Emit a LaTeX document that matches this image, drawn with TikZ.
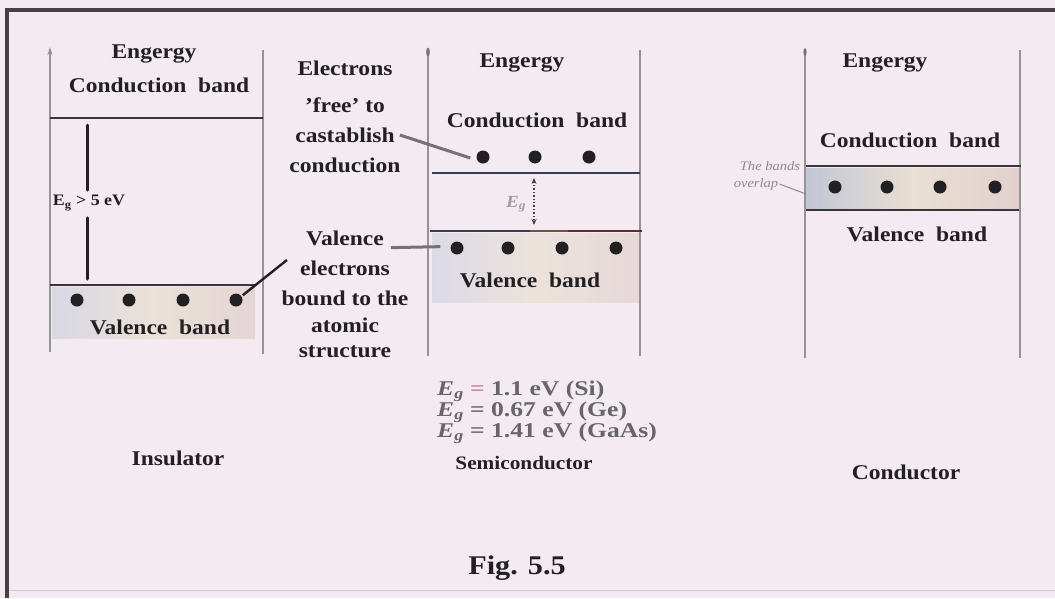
\documentclass[tikz,border=0pt]{standalone}
\usepackage{fontspec}
\setmainfont{Liberation Serif}[FakeStretch=1.12]
\newfontfamily\egfont{Liberation Serif}[FakeStretch=1.22]
\usetikzlibrary{arrows.meta,calc}
\definecolor{paper}{RGB}{243,234,242}
\definecolor{ink}{RGB}{35,32,36}
\definecolor{bandA}{RGB}{205,208,222}
\definecolor{bandB}{RGB}{232,222,205}
\definecolor{bandC}{RGB}{185,192,210}
\definecolor{bandD}{RGB}{222,205,200}
\definecolor{slate}{RGB}{55,60,78}
\definecolor{brownline}{RGB}{110,85,55}
\definecolor{redline}{RGB}{105,40,45}
\definecolor{pinkeq}{RGB}{205,130,150}
\tikzset{
  txt/.style={font=\fontsize{21}{24}\selectfont\bfseries, text=ink, inner sep=1pt},
  bigtxt/.style={font=\fontsize{27}{30}\selectfont\bfseries, text=ink, inner sep=1pt},
  smalltxt/.style={font=\fontsize{13}{15}\selectfont\itshape, text=black!45, inner sep=1pt},
  egtxt/.style={font=\egfont\fontsize{21}{22}\selectfont\bfseries, text=black!60, anchor=west, inner sep=0pt},
  bandline/.style={line width=2.8pt, draw=ink!90},
  axisline/.style={line width=1.8pt, draw=black!42},
  edot/.style={circle, fill=ink, minimum size=13pt, inner sep=0pt},
  leader/.style={line width=3pt, draw=black!55},
  leaderdark/.style={line width=2.4pt, draw=ink},
  gapline/.style={line width=3pt, draw=ink, line cap=round},
}
\begin{document}
\begin{tikzpicture}[x=1pt,y=-1pt]
\useasboundingbox (0,0) rectangle (1055,598);
\fill[paper] (0,0) rectangle (1055,598);
% frame
\draw[line width=3.5pt, ink!85] (7,598) -- (7,10) -- (1055,10);
\draw[line width=1pt, black!20] (9,590) -- (1055,590);

% ---------------- Insulator ----------------
\shade[left color=bandA, right color=bandD, middle color=bandB, opacity=0.7] (52,287) rectangle (255,338);
\draw[axisline, -{Stealth[length=8pt,width=5pt]}] (50,352) -- (50,47);
\draw[axisline] (263,354) -- (263,50);
\draw[bandline] (50,118) -- (263,118);
\draw[bandline] (50,285) -- (255,285);
\node[txt] (ieng) at (154,54) {Engergy};
\node[txt] (icb) at (159,85) {Conduction~~band};
\node[txt, font=\fontsize{16}{18}\selectfont\bfseries] (ieg) at (89,203) {E\textsubscript{g} > 5 eV};
\coordinate (igt) at (87,125);
\coordinate (igb) at (87,279);
\draw[gapline] (igt) -- ([yshift=4pt]ieg.north -| igt);
\draw[gapline] ([yshift=-6pt]ieg.south -| igb) -- (igb);
\node[edot] (id1) at (77,300) {};
\node[edot] (id2) at (129,300) {};
\node[edot] (id3) at (183,300) {};
\node[edot] (id4) at (236,300) {};
\node[txt] (ivb) at (160,327) {Valence~~band};
\node[txt] (ins) at (178,458) {Insulator};

% middle labels
\node[txt] (m1) at (345,68) {Electrons};
\node[txt] (m2) at (345,105) {'free' to};
\node[txt] (m3) at (345,135) {castablish};
\node[txt] (m4) at (345,165) {conduction};
\node[txt] (v1) at (345,238) {Valence};
\node[txt] (v2) at (345,268) {electrons};
\node[txt] (v3) at (345,298) {bound to the};
\node[txt] (v4) at (345,325) {atomic};
\node[txt] (v5) at (345,352) {structure};

% ---------------- Semiconductor ----------------
\shade[left color=bandA, right color=bandD, middle color=bandB, opacity=0.6] (432,233) rectangle (640,302);
\draw[axisline] (428,356) -- (428,54);
\fill[black!55] (428,52) ellipse (1.8 and 4.5);
\draw[axisline] (640,356) -- (640,50);
\draw[bandline, draw=slate] (432,173) -- (640,173);
\draw[bandline, draw=slate] (430,231) -- (530,231);
\draw[bandline, draw=brownline] (530,231) -- (568,231);
\draw[bandline, draw=redline] (568,231) -- (642,231);
\node[txt] (seng) at (522,63) {Engergy};
\node[txt] (scb) at (537,120) {Conduction~~band};
\node[edot] (sd1) at (483,157) {};
\node[edot] (sd2) at (535,157) {};
\node[edot] (sd3) at (589,157) {};
\coordinate (sgt) at (534,178);
\coordinate (sgb) at (534,225);
\draw[line width=1.4pt, black!75, dotted, {Stealth[length=6pt,width=5pt]}-{Stealth[length=6pt,width=5pt]}] (sgt) -- (sgb);
\node[font=\fontsize{17}{19}\selectfont\itshape\bfseries, text=black!38, inner sep=0pt] (sgl) at (516,204) {E\textsubscript{g}};
\node[edot] (sv1) at (457,248) {};
\node[edot] (sv2) at (508,248) {};
\node[edot] (sv3) at (562,248) {};
\node[edot] (sv4) at (616,248) {};
\node[txt] (svb) at (530,280) {Valence~~band};
\node[egtxt] (e1) at (437,391) {\textit{E}\textsubscript{\textit{g}} \textcolor{pinkeq}{=} 1.1 eV (Si)};
\node[egtxt] (e2) at (437,412) {\textit{E}\textsubscript{\textit{g}} = 0.67 eV (Ge)};
\node[egtxt] (e3) at (437,433) {\textit{E}\textsubscript{\textit{g}} = 1.41 eV (GaAs)};
\node[txt, font=\fontsize{19}{22}\selectfont\bfseries] (semi) at (524,463) {Semiconductor};

% ---------------- Conductor ----------------
\shade[left color=bandC, right color=bandD, middle color=bandB, opacity=0.85] (806,168) rectangle (1019,208);
\draw[axisline] (805,358) -- (805,54);
\fill[black!55] (805,52) ellipse (1.6 and 4);
\draw[axisline] (1020,358) -- (1020,50);
\draw[bandline] (806,166) -- (1021,166);
\draw[bandline] (806,210) -- (1019,210);
\node[txt] (ceng) at (885,63) {Engergy};
\node[txt] (ccb) at (910,140) {Conduction~~band};
\node[edot] (cd1) at (835,187) {};
\node[edot] (cd2) at (887,187) {};
\node[edot] (cd3) at (940,187) {};
\node[edot] (cd4) at (995,187) {};
\node[txt] (cvb) at (917,234) {Valence~~band};
\node[smalltxt] (ov1) at (770,166) {The bands};
\node[smalltxt] (ov2) at (756,184) {overlap};
\coordinate (ovend) at (806,194);
\node[txt] (cond) at (906,472) {Conductor};

% leaders
\draw[leader] ([xshift=4pt]m3.east) -- ([xshift=-6pt,yshift=-1pt]sd1.west);
\draw[leader] ([xshift=6pt, yshift=-1pt]v1.south east) -- ([xshift=-10pt]sv1.west |- v1.south east);
\draw[leaderdark] ($(v2.west)+(-12,-8)$) -- ([xshift=2pt]id4.north east);
\draw[line width=1pt, black!45] (ov2.east) -- (ovend);

\node[bigtxt] (fig) at (517,568) {Fig. 5.5};
\end{tikzpicture}
\end{document}
